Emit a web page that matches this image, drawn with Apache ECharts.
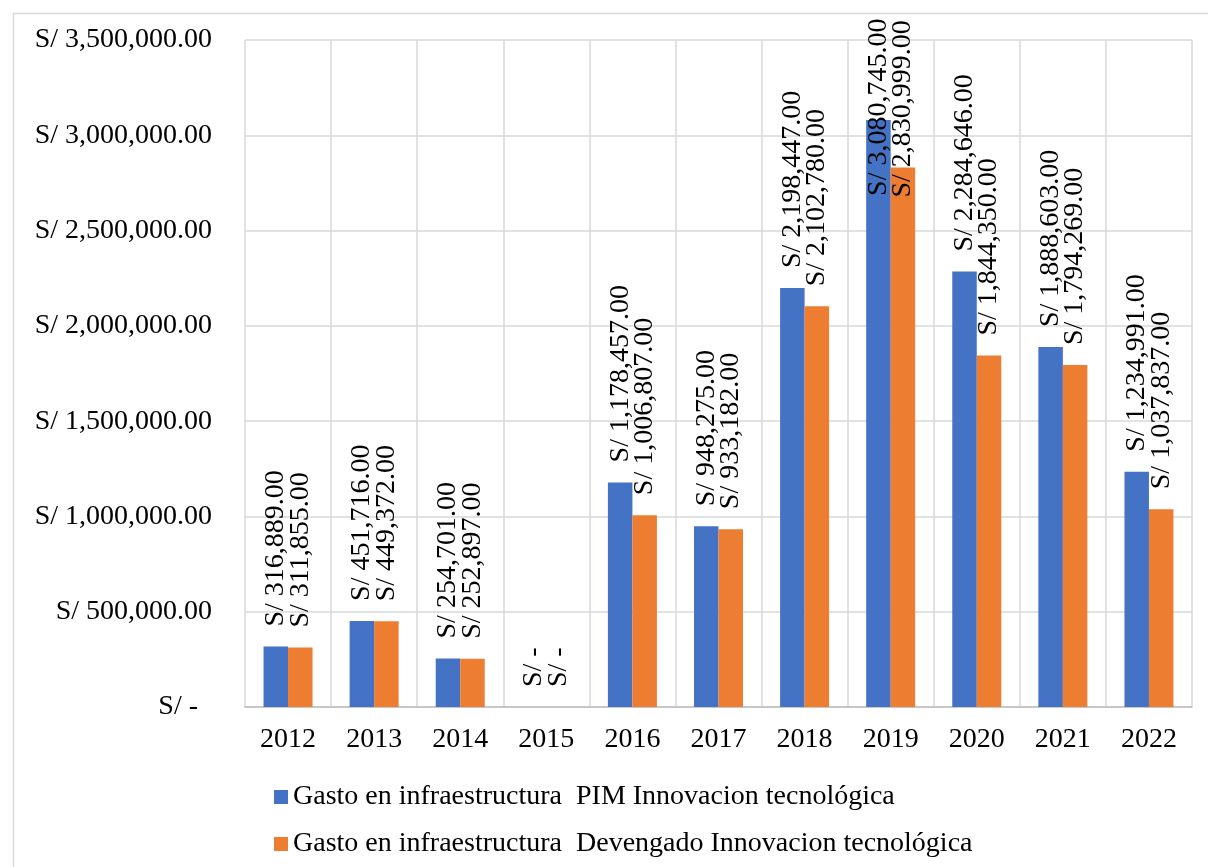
<!DOCTYPE html>
<html>
<head>
<meta charset="utf-8">
<script src="https://cdn.jsdelivr.net/npm/echarts@6/dist/echarts.min.js"></script>
<style>
html,body{margin:0;padding:0;background:#fff;}
#c{width:1208px;height:867px;}
</style>
</head>
<body>
<div id="c"></div>
<script>
const categories = ['2012','2013','2014','2015','2016','2017','2018','2019','2020','2021','2022'];
const seriesNames = ['Gasto en infraestructura  PIM Innovacion tecnológica', 'Gasto en infraestructura  Devengado Innovacion tecnológica'];
const pimValues = [316889, 451716, 254701, 0, 1178457, 948275, 2198447, 3080745, 2284646, 1888603, 1234991];
const devengadoValues = [311855, 449372, 252897, 0, 1006807, 933182, 2102780, 2830999, 1844350, 1794269, 1037837];
const yTicks = [0, 500000, 1000000, 1500000, 2000000, 2500000, 3000000, 3500000];

const FONT = "'Liberation Serif', 'Times New Roman', serif";
function money(v) {
  if (v === 0) return 'S/ -';
  return 'S/ ' + v.toLocaleString('en-US', {minimumFractionDigits: 2, maximumFractionDigits: 2});
}
// labels pushed down inside the chart area for the tallest year (as in the original)
const labelShift = {0: {7: 96}, 1: {7: 50}};
function buildData(values, si) {
  return values.map((v, i) => {
    const item = {value: v};
    if (labelShift[si][i]) item.label = {offset: [-labelShift[si][i], 0]};
    return item;
  });
}
const colors = ['#4472C4', '#ED7D31'];

const chart = echarts.init(document.getElementById('c'), null, {renderer: 'canvas'});
chart.setOption({
  animation: false,
  backgroundColor: '#fff',
  textStyle: {fontFamily: FONT},
  graphic: [{
    type: 'rect', left: 11, top: 11, shape: {width: 1400, height: 1000},
    style: {fill: 'none', stroke: '#d9d9d9', lineWidth: 1.5}, silent: true, z: -1
  }],
  grid: {left: 245, top: 40, right: 16, bottom: 160, containLabel: false},
  legend: {
    orient: 'vertical', left: 269, top: 778,
    icon: 'rect', itemWidth: 14, itemHeight: 14, itemGap: 19,
    textStyle: {fontFamily: FONT, fontSize: 28, color: '#000', lineHeight: 28},
    data: seriesNames
  },
  xAxis: {
    type: 'category', data: categories,
    axisLine: {show: true, lineStyle: {color: '#bfbfbf', width: 1.5}},
    axisTick: {show: false},
    axisLabel: {fontFamily: FONT, fontSize: 28, color: '#000', margin: 19},
    splitLine: {show: true, lineStyle: {color: '#d9d9d9', width: 1.5}}
  },
  yAxis: {
    type: 'value', min: yTicks[0], max: yTicks[yTicks.length - 1], interval: yTicks[1] - yTicks[0],
    axisLine: {show: false}, axisTick: {show: false},
    axisLabel: {fontFamily: FONT, fontSize: 28, color: '#000', margin: 33,
      formatter: v => v === 0 ? 'S/ -  ' : money(v)},
    splitLine: {show: true, lineStyle: {color: '#d9d9d9', width: 1.5}}
  },
  series: [pimValues, devengadoValues].map((vals, si) => ({
    name: seriesNames[si], type: 'bar', data: buildData(vals, si),
    barWidth: 24.5, barGap: '0%',
    itemStyle: {color: colors[si]},
    label: {
      show: true, position: 'top', distance: 20, rotate: 90,
      align: 'left', verticalAlign: 'middle',
      fontFamily: FONT, fontSize: 28, color: '#000',
      formatter: p => money(p.value)
    }
  }))
});
</script>
</body>
</html>
